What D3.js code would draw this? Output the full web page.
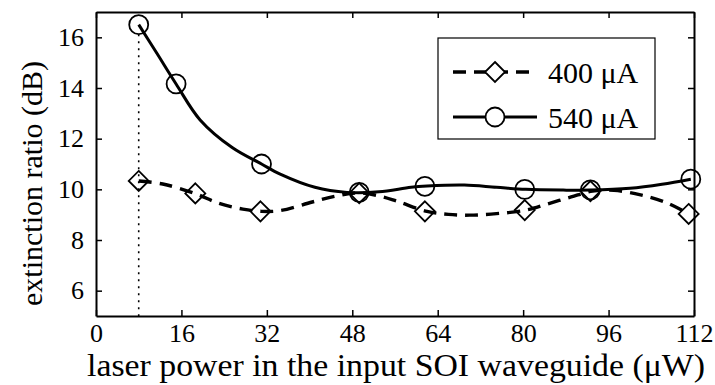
<!DOCTYPE html>
<html>
<head>
<meta charset="utf-8">
<script src="https://cdn.jsdelivr.net/npm/d3@7"></script>
<style>
  html, body { margin: 0; padding: 0; background: #fff; }
</style>
</head>
<body>
<svg id="chart" width="715" height="385"></svg>
<script>
// Measured points: laser power (µW) and extinction ratio (dB)
const power400 = [8, 18.6, 30.8, 49.3, 61.6, 80.3, 92.6, 111];
const ratio400 = [10.33, 9.84, 9.13, 9.85, 9.13, 9.18, 9.93, 9.03];
const power540 = [8, 15, 31, 49.3, 61.6, 80.3, 92.6, 111.4];
const ratio540 = [16.5, 14.16, 11.0, 9.88, 10.12, 10.0, 9.98, 10.4];

// Fitted trend curves for each bias current
const fitPower400 = [8, 12.5, 18.5, 23, 27.5, 31, 34.5, 40.5, 45, 49, 53, 56.5, 62, 66, 70, 75, 80.5, 84.5, 89, 93, 97, 102, 107, 111];
const fitRatio400 = [10.33, 10.21, 9.84, 9.45, 9.22, 9.13, 9.16, 9.5, 9.74, 9.86, 9.74, 9.52, 9.13, 9.01, 8.98, 9.04, 9.18, 9.42, 9.7, 9.93, 9.96, 9.78, 9.46, 9.03];
const fitPower540 = [8, 11.4, 15, 19.5, 25.5, 31, 34.5, 41, 47, 53, 59, 62, 69, 75, 80.5, 87.5, 92.5, 100, 106, 111.4];
const fitRatio540 = [16.5, 15.37, 14.16, 12.74, 11.65, 11.0, 10.6, 10.08, 9.88, 9.9, 10.08, 10.13, 10.17, 10.08, 10.0, 9.97, 9.97, 10.04, 10.2, 10.4];

const xTicks = [0, 16, 32, 48, 64, 80, 96, 112];
const yTicks = [6, 8, 10, 12, 14, 16];
const seriesLabels = ["400 μA", "540 μA"];
const xTitle = "laser power in the input SOI waveguide (μW)";
const yTitle = "extinction ratio (dB)";

const svg = d3.select("#chart");
const margin = { left: 96, right: 21, top: 12, bottom: 69 };
const W = 715, H = 385;

const x = d3.scaleLinear().domain([0, 112]).range([margin.left, W - margin.right]);
const y = d3.scaleLinear().domain([5, 17]).range([H - margin.bottom, margin.top]);

const ink = "#000";
const tickLen = 6;
const serif = '"Liberation Serif", "Times New Roman", serif';

// Axes: ticks point inward, mirrored on top and right
const gBottom = svg.append("g").attr("transform", `translate(0,${y(5)})`)
  .call(d3.axisBottom(x).tickValues(xTicks).tickSizeInner(-tickLen).tickSizeOuter(0).tickPadding(14));
const gTop = svg.append("g").attr("transform", `translate(0,${y(17)})`)
  .call(d3.axisTop(x).tickValues(xTicks).tickSizeInner(-tickLen).tickSizeOuter(0).tickFormat(""));
const gLeft = svg.append("g").attr("transform", `translate(${x(0)},0)`)
  .call(d3.axisLeft(y).tickValues(yTicks).tickSizeInner(-tickLen).tickSizeOuter(0).tickPadding(14));
const gRight = svg.append("g").attr("transform", `translate(${x(112)},0)`)
  .call(d3.axisRight(y).tickValues(yTicks).tickSizeInner(-tickLen).tickSizeOuter(0).tickFormat(""));

[gBottom, gTop, gLeft, gRight].forEach(g => {
  g.select(".domain").attr("stroke", ink).attr("stroke-width", 2);
  g.selectAll(".tick line").attr("stroke", ink).attr("stroke-width", 1.5);
  g.selectAll(".tick text").attr("fill", ink).attr("font-size", 26);
});
gBottom.selectAll(".tick text").attr("dy", "0.71em").attr("y", 8);
gLeft.selectAll(".tick text").attr("x", -12);

// Dotted guide at the lowest measured power
const r = 9.5;
svg.append("line")
  .attr("x1", x(power540[0])).attr("x2", x(power540[0]))
  .attr("y1", y(ratio540[0]) + r).attr("y2", y(5))
  .attr("stroke", ink).attr("stroke-width", 1.6)
  .attr("stroke-dasharray", "2,5");

// Trend curves
const line = d3.line().x(d => x(d[0])).y(d => y(d[1])).curve(d3.curveCatmullRom.alpha(0.5));
const fit400 = fitPower400.map((p, i) => [p, fitRatio400[i]]);
const fit540 = fitPower540.map((p, i) => [p, fitRatio540[i]]);

svg.append("path").datum(fit540).attr("d", line)
  .attr("fill", "none").attr("stroke", ink).attr("stroke-width", 3);
svg.append("path").datum(fit400).attr("d", line)
  .attr("fill", "none").attr("stroke", ink).attr("stroke-width", 3.4)
  .attr("stroke-dasharray", "13,8");

// Markers
const diamond = s => `M0,${-s}L${s},0L0,${s}L${-s},0Z`;
const pts400 = power400.map((p, i) => [p, ratio400[i]]);
const pts540 = power540.map((p, i) => [p, ratio540[i]]);

svg.append("g").selectAll("path").data(pts400).join("path")
  .attr("transform", d => `translate(${x(d[0])},${y(d[1])})`)
  .attr("d", diamond(10))
  .attr("fill", "none").attr("stroke", ink).attr("stroke-width", 1.8);
svg.append("g").selectAll("circle").data(pts540).join("circle")
  .attr("cx", d => x(d[0])).attr("cy", d => y(d[1])).attr("r", r)
  .attr("fill", "none").attr("stroke", ink).attr("stroke-width", 1.8);

// Legend
const lg = svg.append("g").attr("transform", "translate(438,38)");
lg.append("rect").attr("width", 217).attr("height", 101)
  .attr("fill", "#fff").attr("stroke", ink).attr("stroke-width", 1.2);
const rows = [
  { label: seriesLabels[0], dash: "13,8", sw: 3.4, mark: "diamond", cy: 34 },
  { label: seriesLabels[1], dash: null, sw: 3, mark: "circle", cy: 79 }
];
rows.forEach(rw => {
  const l = lg.append("line").attr("x1", 15).attr("x2", 99).attr("y1", rw.cy).attr("y2", rw.cy)
    .attr("stroke", ink).attr("stroke-width", rw.sw);
  if (rw.dash) l.attr("stroke-dasharray", rw.dash);
  if (rw.mark === "diamond") {
    lg.append("path").attr("transform", `translate(57,${rw.cy})`).attr("d", diamond(10))
      .attr("fill", "#fff").attr("stroke", ink).attr("stroke-width", 1.8);
  } else {
    lg.append("circle").attr("cx", 57).attr("cy", rw.cy).attr("r", r)
      .attr("fill", "#fff").attr("stroke", ink).attr("stroke-width", 1.8);
  }
  lg.append("text").attr("x", 110).attr("y", rw.cy).attr("dy", "0.35em")
    .attr("font-size", 30).attr("fill", ink).text(rw.label);
});

// Axis titles
svg.append("text").attr("x", 87).attr("y", 376)
  .attr("font-size", 31).attr("fill", ink)
  .attr("textLength", 618).attr("lengthAdjust", "spacingAndGlyphs")
  .text(xTitle);
svg.append("text")
  .attr("transform", `translate(42,${(62 + 305) / 2}) rotate(-90)`)
  .attr("text-anchor", "middle")
  .attr("font-size", 30).attr("fill", ink)
  .text(yTitle);

// Serif face for every label
svg.selectAll("text").style("font-family", serif);
</script>
</body>
</html>
